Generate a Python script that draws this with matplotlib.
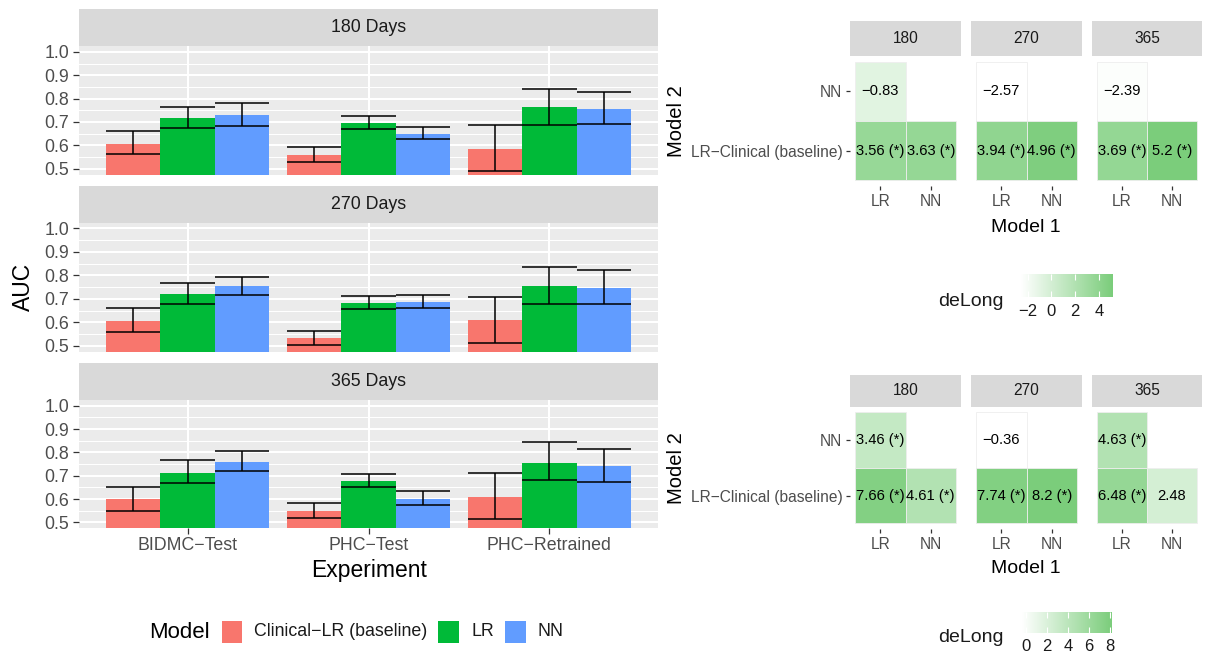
import numpy as np
import matplotlib
matplotlib.use("Agg")
import matplotlib.pyplot as plt
from matplotlib.colors import LinearSegmentedColormap, Normalize
from matplotlib.patches import Rectangle

plt.rcParams["font.family"] = ["Liberation Sans", "DejaVu Sans"]

W, H = 1224, 659

# ---- bar chart data ----
experiments = ["BIDMC−Test", "PHC−Test", "PHC−Retrained"]
model_names = ["Clinical−LR (baseline)", "LR", "NN"]
model_colors = ["#F8766D", "#00BA38", "#619CFF"]
horizons = ["180 Days", "270 Days", "365 Days"]

# rows: Clinical-LR, LR, NN ; columns follow experiments
auc_180 = [[0.607, 0.560, 0.585], [0.718, 0.697, 0.763], [0.730, 0.650, 0.757]]
lo_180 = [[0.561, 0.530, 0.489], [0.676, 0.670, 0.688], [0.684, 0.625, 0.693]]
hi_180 = [[0.660, 0.591, 0.687], [0.766, 0.727, 0.840], [0.783, 0.678, 0.826]]

auc_270 = [[0.607, 0.533, 0.610], [0.721, 0.683, 0.753], [0.754, 0.687, 0.747]]
lo_270 = [[0.557, 0.504, 0.513], [0.677, 0.657, 0.679], [0.716, 0.663, 0.679]]
hi_270 = [[0.660, 0.563, 0.707], [0.769, 0.711, 0.834], [0.794, 0.716, 0.824]]

auc_365 = [[0.600, 0.550, 0.611], [0.714, 0.677, 0.755], [0.761, 0.601, 0.741]]
lo_365 = [[0.551, 0.521, 0.516], [0.668, 0.650, 0.680], [0.720, 0.574, 0.673]]
hi_365 = [[0.650, 0.583, 0.711], [0.767, 0.708, 0.844], [0.806, 0.634, 0.814]]

# ---- deLong heatmap data ----
model1_levels = ["LR", "NN"]
model2_levels = ["LR−Clinical (baseline)", "NN"]
heat_days = ["180", "270", "365"]

# top heatmap, one value per day
top_nn_lr = [-0.83, -2.57, -2.39]
top_clin_lr = [3.56, 3.94, 3.69]
top_clin_nn = [3.63, 4.96, 5.2]
top_star_nn_lr = [False, False, False]
top_star_clin_lr = [True, True, True]
top_star_clin_nn = [True, True, True]

# bottom heatmap
bot_nn_lr = [3.46, -0.36, 4.63]
bot_clin_lr = [7.66, 7.74, 6.48]
bot_clin_nn = [4.61, 8.2, 2.48]
bot_star_nn_lr = [True, False, True]
bot_star_clin_lr = [True, True, True]
bot_star_clin_nn = [True, True, False]

fig = plt.figure(figsize=(W / 100, H / 100), dpi=100)


def add_ax(x0, y0, x1, y1):
    return fig.add_axes([x0 / W, 1 - y1 / H, (x1 - x0) / W, (y1 - y0) / H])


def strip(x0, y0, x1, y1, label, size):
    s = add_ax(x0, y0, x1, y1)
    s.set_facecolor("#D9D9D9")
    s.set_xticks([])
    s.set_yticks([])
    for sp in s.spines.values():
        sp.set_visible(False)
    s.text(0.5, 0.5, label, ha="center", va="center", fontsize=size,
           color="#1A1A1A", transform=s.transAxes)


# ---------------- left: AUC bars ----------------
panel_rows = [(9.3, 46, 174.5), (186, 222.5, 351.7), (363.3, 400, 528.3)]
all_auc = [auc_180, auc_270, auc_365]
all_lo = [lo_180, lo_270, lo_365]
all_hi = [hi_180, hi_270, hi_365]
bw = 0.3
xs = np.arange(1, len(experiments) + 1)

for k, (s0, p0, p1) in enumerate(panel_rows):
    strip(79, s0, 658, p0, horizons[k], 12.8)
    ax = add_ax(79, p0, 658, p1)
    ax.set_facecolor("#EBEBEB")
    ax.set_xlim(0.4, 3.6)
    ax.set_ylim(0.475, 1.025)
    ax.set_yticks(np.arange(0.5, 1.01, 0.1))
    ax.set_yticklabels([f"{v:.1f}" for v in np.arange(0.5, 1.01, 0.1)])
    ax.set_yticks(np.arange(0.55, 1.0, 0.1), minor=True)
    ax.set_xticks(xs)
    ax.grid(which="major", color="white", lw=1.5)
    ax.grid(which="minor", axis="y", color="white", lw=0.75)
    ax.set_axisbelow(True)
    for sp in ax.spines.values():
        sp.set_visible(False)
    ax.tick_params(axis="y", which="major", length=4.2, width=0.9,
                   color="#333333", labelsize=12.8, labelcolor="#4D4D4D", pad=3)
    ax.tick_params(axis="y", which="minor", length=0)
    if k == 2:
        ax.set_xticklabels(experiments)
        ax.tick_params(axis="x", length=4.2, width=0.9, color="#333333",
                       labelsize=12.8, labelcolor="#4D4D4D", pad=2)
    else:
        ax.set_xticklabels([])
        ax.tick_params(axis="x", length=0)

    for j in range(3):
        cx = xs + (j - 1) * bw
        ax.bar(cx, all_auc[k][j], width=bw, color=model_colors[j], zorder=2)
        ax.vlines(cx, all_lo[k][j], all_hi[k][j], color="black", lw=1.1, zorder=3)
        ax.hlines(all_lo[k][j], cx - bw / 2, cx + bw / 2, color="black", lw=1.1, zorder=3)
        ax.hlines(all_hi[k][j], cx - bw / 2, cx + bw / 2, color="black", lw=1.1, zorder=3)

fig.text(23.4 / W, 1 - 287 / H, "AUC", rotation=90, ha="center", va="center",
         fontsize=16.5, color="black")
fig.text(369 / W, 1 - 571 / H, "Experiment", ha="center", va="center",
         fontsize=16.5, color="black")

# legend
fig.text(149.3 / W, 1 - 632 / H, "Model", ha="left", va="center", fontsize=16)
key_x = [221.7, 438.3, 505]
lab_x = [254, 471.7, 537.3]
for j in range(3):
    fig.add_artist(Rectangle((key_x[j] / W, 1 - 642.5 / H), 20.7 / W, 21.5 / H,
                             transform=fig.transFigure, facecolor=model_colors[j],
                             edgecolor="none"))
    fig.text(lab_x[j] / W, 1 - 632 / H, model_names[j], ha="left", va="center",
             fontsize=12.8, color="#1A1A1A")

# ---------------- right: deLong heatmaps ----------------
cmap = LinearSegmentedColormap.from_list("delong", ["#FFFFFF", "#7BCD7B"])
heat_x = [(850, 961), (971, 1082), (1092, 1202)]


def fmt(v, star):
    s = f"{v:g}".replace("-", "−")
    return s + " (*)" if star else s


def heatmap(strip_y, panel_y, nn_lr, clin_lr, clin_nn, st_nn_lr, st_clin_lr,
            st_clin_nn, m2_y, m1_y, cbar_box, cbar_ticks, title_y, cbar_pad):
    vmin = min(nn_lr + clin_lr + clin_nn)
    vmax = max(nn_lr + clin_lr + clin_nn)
    norm = Normalize(vmin, vmax)
    for d in range(3):
        x0, x1 = heat_x[d]
        strip(x0, strip_y[0], x1, strip_y[1], heat_days[d], 11.2)
        ax = add_ax(x0, panel_y[0], x1, panel_y[1])
        ax.set_facecolor("white")
        for sp in ax.spines.values():
            sp.set_visible(False)
        # tiles: (model1 position, model2 position, value, star)
        tiles = [(1, 2, nn_lr[d], st_nn_lr[d]),
                 (1, 1, clin_lr[d], st_clin_lr[d]),
                 (2, 1, clin_nn[d], st_clin_nn[d])]
        for tx, ty, v, st in tiles:
            ax.bar(tx, 1, bottom=ty - 0.5, width=1, color=cmap(norm(v)),
                   edgecolor="#EEEEEE", linewidth=0.6)
            ax.text(tx, ty, fmt(v, st), ha="center", va="center",
                    fontsize=10.6, color="black")
        ax.set_xlim(0.4, 2.6)
        ax.set_ylim(0.4, 2.6)
        ax.set_xticks([1, 2])
        ax.set_xticklabels(model1_levels)
        ax.set_yticks([1, 2])
        ax.tick_params(length=3, width=0.9, color="#333333", labelsize=11.2,
                       labelcolor="#4D4D4D", pad=2.5)
        if d == 0:
            ax.set_yticklabels(model2_levels)
        else:
            ax.set_yticklabels([])
            ax.tick_params(axis="y", length=0)
    fig.text(677 / W, 1 - m2_y / H, "Model 2", rotation=90, ha="center",
             va="center", fontsize=14.5)
    fig.text(1026 / W, 1 - m1_y / H, "Model 1", ha="center", va="center",
             fontsize=14)
    # colourbar
    cb = add_ax(*cbar_box)
    grad = np.linspace(vmin, vmax, 300).reshape(1, -1)
    cb.imshow(grad, cmap=cmap, vmin=vmin, vmax=vmax, aspect="auto",
              extent=[vmin, vmax, 0, 1])
    cb.set_xlim(vmin, vmax)
    cb.set_yticks([])
    cb.set_xticks(cbar_ticks)
    cb.set_xticklabels([str(t).replace("-", "−") for t in cbar_ticks])
    cb.tick_params(axis="x", direction="in", length=4, width=0.8, color="white",
                   top=True, labelsize=12, labelcolor="#1A1A1A", pad=cbar_pad)
    for sp in cb.spines.values():
        sp.set_visible(False)
    fig.text(938 / W, 1 - title_y / H, "deLong", ha="left", va="center",
             fontsize=14, color="#1A1A1A")


heatmap((20.7, 56), (56, 186), top_nn_lr, top_clin_lr, top_clin_nn,
        top_star_nn_lr, top_star_clin_lr, top_star_clin_nn,
        121, 227, (1021, 274, 1113, 296.7), [-2, 0, 2, 4], 302, 5.5)
heatmap((375, 406.7), (406.7, 529), bot_nn_lr, bot_clin_lr, bot_clin_nn,
        bot_star_nn_lr, bot_star_clin_lr, bot_star_clin_nn,
        468, 568.5, (1022, 611.7, 1112, 633.3), [0, 2, 4, 6, 8], 637, 4)

fig.savefig("out.png", dpi=100)
